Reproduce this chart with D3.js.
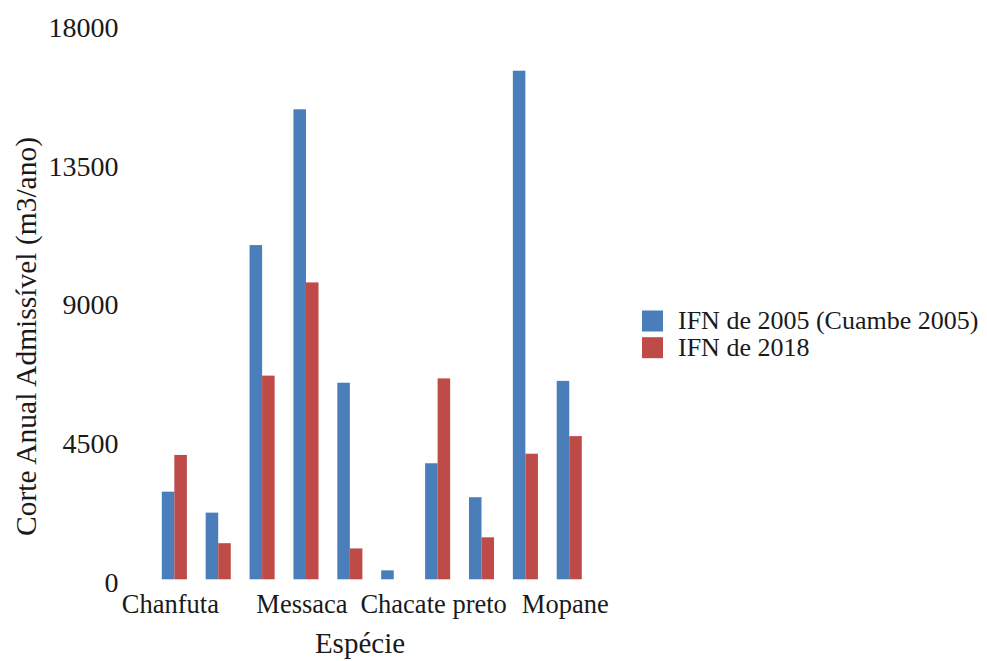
<!DOCTYPE html>
<html>
<head>
<meta charset="utf-8">
<script src="https://cdn.jsdelivr.net/npm/d3@7"></script>
<style>
  body { margin: 0; background: #fff; }
  svg text { font-family: "Liberation Serif", Tinos, "Times New Roman", Times, "DejaVu Serif", serif !important; fill: #1a1a1a; }
</style>
</head>
<body>
<svg id="chart"></svg>
<script>
// species (only every third name is printed on the axis, as in the original)
const species = ['Chanfuta', 'Umbila', 'Jambire', 'Messaca', 'Pau-ferro',
                 'Mondzo', 'Chacate preto', 'Metil', 'Mecrusse', 'Mopane'];
const seriesNames = ['IFN de 2005 (Cuambe 2005)', 'IFN de 2018'];
const ifn2005 = [2840, 2160, 10830, 15230, 6370, 290, 3760, 2660, 16480, 6430];
const ifn2018 = [4030, 1170, 6600, 9620, 1000, 0, 6510, 1360, 4070, 4640];
const yTicks = [0, 4500, 9000, 13500, 18000];
const shownLabels = ['Chanfuta', 'Messaca', 'Chacate preto', 'Mopane'];
const colors = ['#4a7ebb', '#be4b48'];

const width = 987, height = 661;
const margin = {top: 23.8, left: 152.4, right: 395.8, bottom: 81.7};

const svg = d3.select('#chart')
    .attr('width', width)
    .attr('height', height);

const data = species.map((s, i) => ({species: s, values: [ifn2005[i], ifn2018[i]]}));

// outer band = one species group, inner band = the two surveys
const x0 = d3.scaleBand()
    .domain(species)
    .range([margin.left, width - margin.right])
    .paddingInner(0.4286)
    .paddingOuter(0.2143);

const x1 = d3.scaleBand()
    .domain([0, 1])
    .range([0, x0.bandwidth()]);

const y = d3.scaleLinear()
    .domain([0, 18000])
    .range([height - margin.bottom, margin.top]);

// bars
const groups = svg.append('g').selectAll('g')
    .data(data)
    .join('g')
    .attr('transform', d => `translate(${x0(d.species)},0)`);

groups.selectAll('rect')
    .data(d => d.values.map((v, k) => ({k, v})))
    .join('rect')
    .attr('x', d => x1(d.k))
    .attr('width', x1.bandwidth())
    .attr('y', d => y(d.v))
    .attr('height', d => y(0) - y(d.v))
    .attr('fill', d => colors[d.k]);

// y axis: labels only
const yAxisG = svg.append('g')
    .attr('transform', `translate(${margin.left},0)`)
    .call(d3.axisLeft(y).tickValues(yTicks).tickSize(0).tickPadding(34).tickFormat(d3.format('d')))
    .call(g => g.select('.domain').remove());
yAxisG.attr('font-family', null);
yAxisG.selectAll('text')
    .attr('font-size', 28)
    .attr('dy', '0.44em')
    .attr('fill', '#1a1a1a');

// x axis: labels only
const xAxisG = svg.append('g')
    .attr('transform', `translate(0,${y(0)})`)
    .call(d3.axisBottom(x0).tickValues(shownLabels).tickSize(0).tickPadding(15))
    .call(g => g.select('.domain').remove());
xAxisG.attr('font-family', null);
xAxisG.selectAll('text')
    .attr('font-size', 26.5)
    .attr('dy', '0.71em')
    .attr('dx', -4)
    .attr('fill', '#1a1a1a');

// axis titles
svg.append('text')
    .attr('x', 360)
    .attr('y', 653)
    .attr('text-anchor', 'middle')
    .attr('font-size', 29)
    .text('Espécie');

svg.append('text')
    .attr('transform', 'translate(36,336.5) rotate(-90)')
    .attr('text-anchor', 'middle')
    .attr('font-size', 29.5)
    .text('Corte Anual Admissível (m3/ano)');

// legend
const legend = svg.append('g')
    .attr('transform', 'translate(642,310.5)');

const items = legend.selectAll('g')
    .data(seriesNames)
    .join('g')
    .attr('transform', (d, i) => `translate(0,${i * 26.7})`);

items.append('rect')
    .attr('width', 21)
    .attr('height', 21)
    .attr('fill', (d, i) => colors[i]);

items.append('text')
    .attr('x', 36)
    .attr('y', 18.5)
    .attr('font-size', 26)
    .text(d => d);
</script>
</body>
</html>
